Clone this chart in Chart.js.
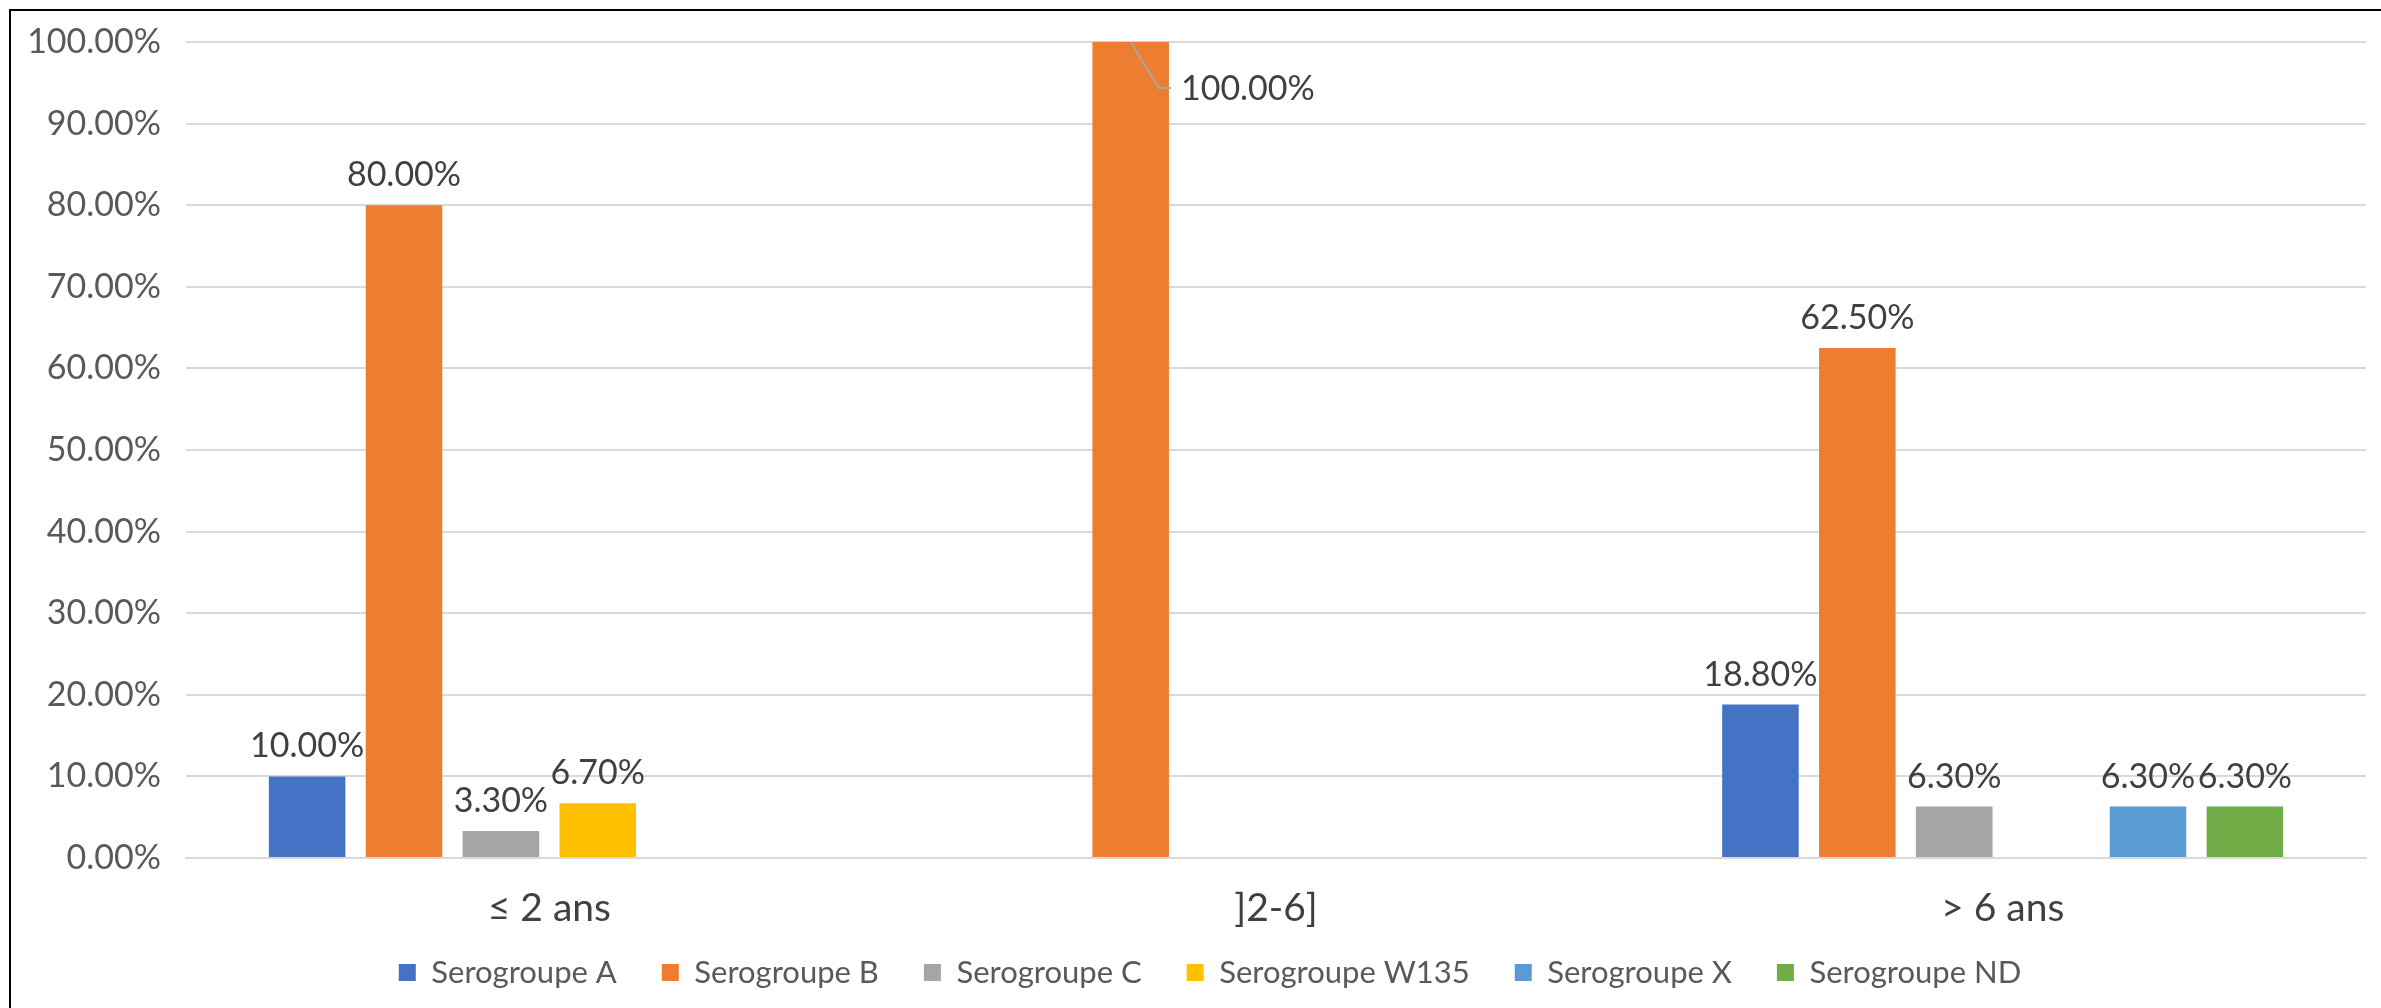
<!DOCTYPE html>
<html>
<head>
<meta charset="utf-8">
<script src="https://cdn.jsdelivr.net/npm/chart.js@4.4.0/dist/chart.umd.min.js"></script>
<style>
  html, body { margin: 0; padding: 0; background: #fff; }
  #wrap { position: relative; width: 2381px; height: 1008px; overflow: hidden; }
  #frame { position: absolute; left: 9px; top: 9px; width: 2400px; height: 1020px;
           border-left: 2px solid #000; border-top: 2px solid #000; pointer-events: none; }
  canvas { position: absolute; left: 0; top: 0; }
</style>
</head>
<body>
<div id="wrap">
  <canvas id="myChart" width="2381" height="1008"></canvas>
  <div id="frame"></div>
</div>
<script>
// categories and series (percent values)
var ageGroups = ['\u2264 2 ans', ']2-6]', '> 6 ans'];
var seroA    = [10.0, null, 18.8];
var seroB    = [80.0, 100.0, 62.5];
var seroC    = [3.3, null, 6.3];
var seroW135 = [6.7, null, null];
var seroX    = [null, null, 6.3];
var seroND   = [null, null, 6.3];
var yTicks   = [0, 10, 20, 30, 40, 50, 60, 70, 80, 90, 100];

// data labels drawn above each bar; a label that would leave the plot gets a leader line
var valueLabels = {
  id: 'valueLabels',
  afterDatasetsDraw: function(chart) {
    var ctx = chart.ctx;
    var top = chart.chartArea.top;
    ctx.save();
    ctx.font = '34px Lato';
    ctx.fillStyle = '#404040';
    ctx.textBaseline = 'alphabetic';
    chart.data.datasets.forEach(function(ds, i) {
      var meta = chart.getDatasetMeta(i);
      meta.data.forEach(function(bar, j) {
        var v = ds.data[j];
        if (v === null) return;
        var txt = v.toFixed(2) + '%';
        if (bar.y - 50 < top) {
          var right = bar.x + bar.width / 2;
          ctx.strokeStyle = '#a6a6a6';
          ctx.lineWidth = 2;
          ctx.beginPath();
          ctx.moveTo(bar.x, bar.y);
          ctx.lineTo(right - 10, bar.y + 46);
          ctx.lineTo(right + 2, bar.y + 46);
          ctx.stroke();
          ctx.textAlign = 'left';
          ctx.fillText(txt, right + 12, bar.y + 58);
        } else {
          ctx.textAlign = 'center';
          ctx.fillText(txt, bar.x, bar.y - 19);
        }
      });
    });
    ctx.restore();
  }
};

// move the legend row up and right (its padding also sets the gap between items)
var legendShift = {
  id: 'legendShift',
  afterLayout: function(chart) {
    var lg = chart.legend;
    lg.top -= 20;
    lg.bottom -= 20;
    lg.left += 27;
    lg.right += 27;
  }
};

var ctx = document.getElementById('myChart').getContext('2d');
var myChart = new Chart(ctx, {
  type: 'bar',
  data: {
    labels: ageGroups,
    datasets: [
      { label: 'Serogroupe A', data: seroA, backgroundColor: '#4472C4' },
      { label: 'Serogroupe B', data: seroB, backgroundColor: '#ED7D31' },
      { label: 'Serogroupe C', data: seroC, backgroundColor: '#A5A5A5' },
      { label: 'Serogroupe W135', data: seroW135, backgroundColor: '#FFC000' },
      { label: 'Serogroupe X', data: seroX, backgroundColor: '#5B9BD5' },
      { label: 'Serogroupe ND', data: seroND, backgroundColor: '#70AD47' }
    ]
  },
  options: {
    responsive: false,
    animation: false,
    categoryPercentage: 0.8,
    barPercentage: 0.79,
    layout: { padding: { top: 42, right: 15, left: 0, bottom: -10 } },
    scales: {
      x: {
        grid: { display: false, drawTicks: false },
        border: { display: true, color: '#d9d9d9', width: 2 },
        ticks: { color: '#404040', font: { family: 'Lato', size: 39 }, padding: 27 },
        afterFit: function(scale) { scale.height = 74; }
      },
      y: {
        min: 0,
        max: 100,
        afterBuildTicks: function(scale) {
          scale.ticks = yTicks.map(function(v) { return { value: v }; });
        },
        grid: { color: '#d9d9d9', lineWidth: 2, drawTicks: false },
        border: { display: false },
        ticks: {
          color: '#595959',
          font: { family: 'Lato', size: 34 },
          padding: 25,
          callback: function(v) { return v.toFixed(2) + '%'; }
        },
        afterFit: function(scale) {
          scale.width = 186;
          scale.paddingTop = 0;
          scale.paddingBottom = 0;
        }
      }
    },
    plugins: {
      legend: {
        position: 'bottom',
        labels: {
          color: '#595959',
          font: { family: 'Lato', size: 31 },
          boxWidth: 17,
          boxHeight: 17,
          padding: 45
        }
      },
      tooltip: { enabled: false }
    }
  },
  plugins: [valueLabels, legendShift]
});
</script>
</body>
</html>
